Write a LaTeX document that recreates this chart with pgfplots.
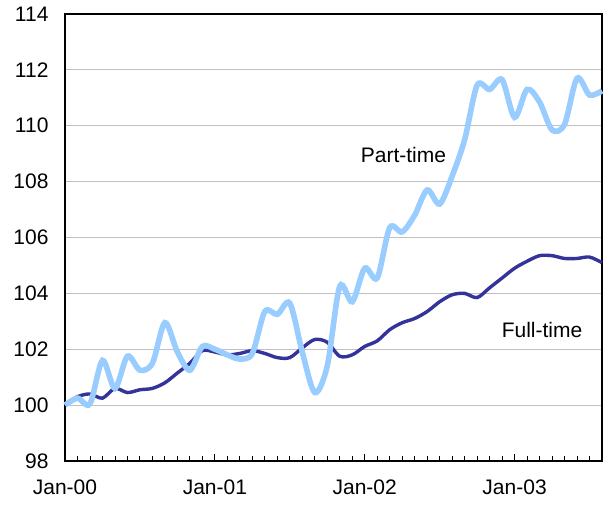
\documentclass[border=0pt]{standalone}
\usepackage{pgfplots}
\pgfplotsset{compat=1.18}
\usepackage{fontspec}
\setmainfont{Liberation Sans}
\definecolor{ptblue}{HTML}{99CCFF}
\definecolor{ftblue}{HTML}{333399}
\definecolor{gridgray}{HTML}{C0C0C0}
\begin{document}
\begin{tikzpicture}
\useasboundingbox (-65pt,-43pt) rectangle (539pt,461pt);
\begin{axis}[
  at={(0pt,0pt)}, anchor=south west,
  scale only axis, width=537pt, height=447pt,
  xmin=0, xmax=43, ymin=98, ymax=114,
  ytick={98,100,...,114},
  xtick={0,12,24,36},
  xticklabels={Jan-00,Jan-01,Jan-02,Jan-03},
  minor xtick={1,...,43},
  xtick pos=bottom, ytick pos=left,
  tick align=inside,
  major tick length=7pt, minor tick length=5pt,
  ytick style={draw=none},
  xtick style={black, line width=0.9pt},
  minor tick style={black, line width=0.9pt},
  ymajorgrids, grid style={gridgray, line width=1.2pt},
  axis line style={black, line width=1.5pt},
  /pgf/number format/assume math mode=true,
  every tick label/.append style={font=\fontsize{21}{25}\selectfont},
  yticklabel style={xshift=-13pt},
  xticklabel style={yshift=-15pt},
  clip=false,
]
\addplot[ftblue, line width=3.4pt, smooth, tension=0.5] coordinates {
(0,100.0) (1,100.3) (2,100.4) (3,100.25) (4,100.6) (5,100.45) (6,100.55) (7,100.6)
(8,100.8) (9,101.15) (10,101.5) (11,101.95) (12,101.9) (13,101.8) (14,101.85) (15,101.95)
(16,101.85) (17,101.7) (18,101.7) (19,102.05) (20,102.35) (21,102.25) (22,101.75) (23,101.8)
(24,102.1) (25,102.3) (26,102.7) (27,102.95) (28,103.1) (29,103.35) (30,103.7) (31,103.95)
(32,104.0) (33,103.85) (34,104.2) (35,104.55) (36,104.9) (37,105.15) (38,105.35) (39,105.35)
(40,105.25) (41,105.25) (42,105.3) (43,105.1)
};
\addplot[ptblue, line width=5.6pt, smooth, tension=0.5] coordinates {
(0,100.0) (1,100.25) (2,100.05) (3,101.6) (4,100.6) (5,101.75) (6,101.25) (7,101.5)
(8,102.95) (9,101.9) (10,101.25) (11,102.1) (12,102.0) (13,101.8) (14,101.65) (15,101.85)
(16,103.35) (17,103.25) (18,103.65) (19,101.9) (20,100.45) (21,101.4) (22,104.25) (23,103.7)
(24,104.9) (25,104.55) (26,106.35) (27,106.2) (28,106.8) (29,107.7) (30,107.2) (31,108.2)
(32,109.5) (33,111.45) (34,111.3) (35,111.65) (36,110.3) (37,111.3) (38,110.85) (39,109.85)
(40,110.05) (41,111.7) (42,111.1) (43,111.25)
};
\node[font=\fontsize{21}{25}\selectfont] at (axis cs:27.1,108.95) {Part-time};
\node[font=\fontsize{21}{25}\selectfont] at (axis cs:38.2,102.69) {Full-time};
\end{axis}
\end{tikzpicture}
\end{document}
